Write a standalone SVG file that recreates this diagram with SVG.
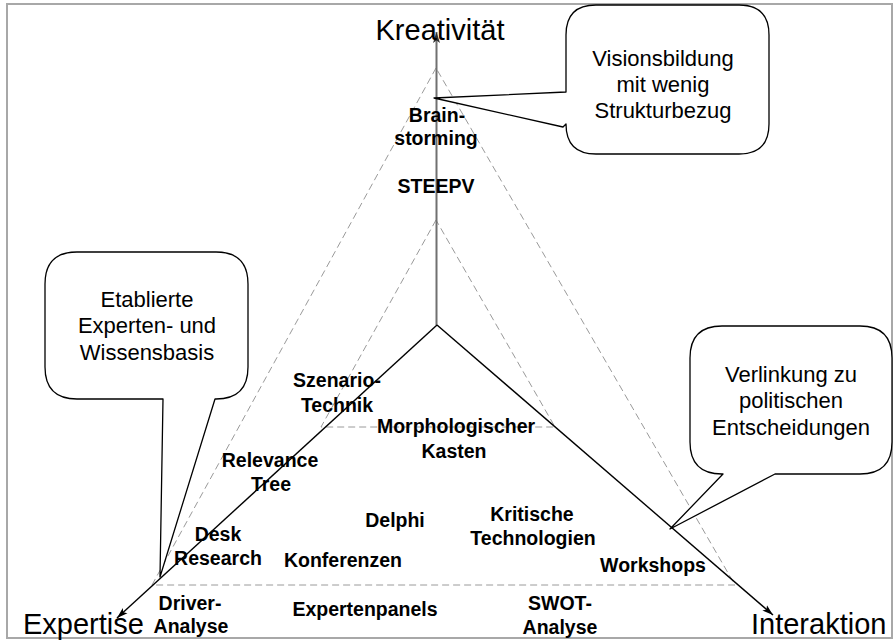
<svg xmlns="http://www.w3.org/2000/svg" width="893" height="640" viewBox="0 0 893 640">
<style>
  .frame{fill:#ffffff;stroke:#a8a8a8;stroke-width:2}
  .axis{fill:none;stroke:#000;stroke-width:1.4}
  .axisv{fill:none;stroke:#707070;stroke-width:2}
  .dash{fill:none;stroke:#9a9a9a;stroke-width:1;stroke-dasharray:7 4}
  .callout{fill:#ffffff;stroke:#000;stroke-width:1.3;stroke-linejoin:round}
  .lbl{font-family:"Liberation Sans",Arial,sans-serif;font-weight:bold;font-size:19.5px;text-anchor:middle;fill:#000}
  .ax{font-family:"Liberation Sans",Arial,sans-serif;font-size:29px;fill:#000}
  .ct{font-family:"Liberation Sans",Arial,sans-serif;font-size:22px;text-anchor:middle;fill:#000}
</style>
<defs>
  <marker id="arrK" markerUnits="userSpaceOnUse" markerWidth="12" markerHeight="10" refX="11" refY="4" orient="auto">
    <path d="M0,0.5 L11,4 L0,7.5 L2.5,4 z" fill="#000"/>
  </marker>
  <marker id="arrG" markerUnits="userSpaceOnUse" markerWidth="12" markerHeight="10" refX="11" refY="4" orient="auto">
    <path d="M0,0.5 L11,4 L0,7.5 L2.5,4 z" fill="#303030"/>
  </marker>
</defs>
<rect class="frame" x="7" y="4" width="885" height="634"/>
<g id="connectors">
  <polygon class="dash" points="436,68 152,585 735,585"/>
  <polygon class="dash" points="436,220 321,427 555,427"/>
  <line class="axisv" x1="436.5" y1="325" x2="436.5" y2="32" marker-end="url(#arrG)"/>
  <line class="axis" x1="437" y1="325" x2="117" y2="618" marker-end="url(#arrK)"/>
  <line class="axis" x1="437" y1="325" x2="773" y2="615" marker-end="url(#arrK)"/>
</g>
<g id="axis-kreativitaet"><text class="ax" x="440" y="40" text-anchor="middle">Kreativität</text></g>
<g id="axis-expertise"><text class="ax" x="23" y="634">Expertise</text></g>
<g id="axis-interaktion"><text class="ax" x="751" y="634">Interaktion</text></g>
<g id="callout-vision">
  <path class="callout" d="M596,5 H739 Q769,5 769,35 V124 Q769,154 739,154 H596 Q566,154 566,124 L563,127 L434,98 L566,92 V35 Q566,5 596,5 z"/>
  <text class="ct" x="663" y="66">Visionsbildung</text>
  <text class="ct" x="663" y="92">mit wenig</text>
  <text class="ct" x="663" y="118">Strukturbezug</text>
</g>
<g id="callout-expertise">
  <path class="callout" d="M77,252 H216 Q248,252 248,284 V367 Q248,399 216,399 H215 L160,577 L163,399 H77 Q45,399 45,367 V284 Q45,252 77,252 z"/>
  <text class="ct" x="147" y="307">Etablierte</text>
  <text class="ct" x="147" y="333">Experten- und</text>
  <text class="ct" x="147" y="360">Wissensbasis</text>
</g>
<g id="callout-interaktion">
  <path class="callout" d="M722,326 H860 Q892,326 892,358 V442 Q892,474 860,474 H775 L670,529 L723,474 H722 Q690,474 690,442 V358 Q690,326 722,326 z"/>
  <text class="ct" x="791" y="382">Verlinkung zu</text>
  <text class="ct" x="791" y="408">politischen</text>
  <text class="ct" x="791" y="435">Entscheidungen</text>
</g>
<g id="node-brainstorming"><text class="lbl" x="437" y="122">Brain-</text><text class="lbl" x="436" y="145">storming</text></g>
<g id="node-steepv"><text class="lbl" x="436" y="193">STEEPV</text></g>
<g id="node-szenario"><text class="lbl" x="337" y="387">Szenario-</text><text class="lbl" x="337" y="412">Technik</text></g>
<g id="node-morph"><text class="lbl" x="456" y="433">Morphologischer</text><text class="lbl" x="454" y="458">Kasten</text></g>
<g id="node-relevance"><text class="lbl" x="270" y="467">Relevance</text><text class="lbl" x="271" y="491">Tree</text></g>
<g id="node-delphi"><text class="lbl" x="395" y="527">Delphi</text></g>
<g id="node-desk"><text class="lbl" x="218" y="541">Desk</text><text class="lbl" x="218" y="565">Research</text></g>
<g id="node-konferenzen"><text class="lbl" x="343" y="567">Konferenzen</text></g>
<g id="node-kritische"><text class="lbl" x="532" y="521">Kritische</text><text class="lbl" x="533" y="545">Technologien</text></g>
<g id="node-workshops"><text class="lbl" x="653" y="572">Workshops</text></g>
<g id="node-driver"><text class="lbl" x="190" y="610">Driver-</text><text class="lbl" x="191" y="633">Analyse</text></g>
<g id="node-expertenpanels"><text class="lbl" x="365" y="616">Expertenpanels</text></g>
<g id="node-swot"><text class="lbl" x="560" y="610">SWOT-</text><text class="lbl" x="560" y="634">Analyse</text></g>
</svg>
